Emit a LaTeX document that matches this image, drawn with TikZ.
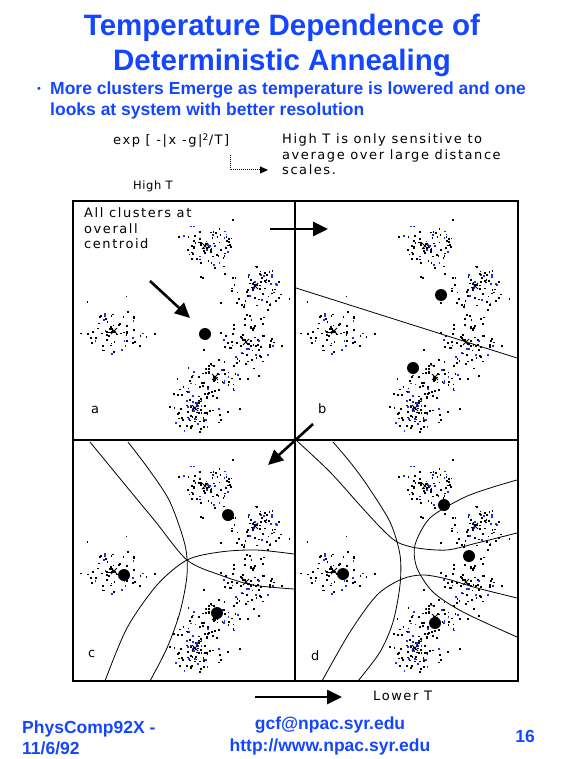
\documentclass[tikz,border=0pt]{standalone}
\usepackage{fontspec}
\setmainfont{Liberation Sans}
\newfontfamily\pixfont[LetterSpace=12]{DejaVu Sans}
\newfontfamily\pixnarrow[LetterSpace=5]{DejaVu Sans}
\usetikzlibrary{arrows.meta}
\definecolor{slideblue}{RGB}{20,70,255}
\definecolor{dotblue}{RGB}{30,50,225}

% the six point clouds, drawn the same in every panel
\newcommand{\clusterset}[2]{%
  \begin{scope}[shift={(#1,#2)}]
    \pgfmathsetseed{1992}
    \foreach \cx/\cy/\rx/\ry/\n in {205/246/29/24/75, 255/286/27/23/70, 114/331/29/23/70,
                                     246/342/27/24/70, 215/377/28/20/55, 195/408/29/24/95}{
      \foreach \k in {1,...,\n}{
        \pgfmathsetmacro\ang{360*rnd}
        \pgfmathsetmacro\rr{rnd^0.75}
        \pgfmathsetmacro\px{\cx+\rx*\rr*cos(\ang)}
        \pgfmathsetmacro\py{\cy+\ry*\rr*sin(\ang)}
        \pgfmathtruncatemacro\pc{rand>0.6 ? 100 : 0}
        \fill[dotblue!\pc!black] (\px,\py) rectangle ++(1.8,1.8);
      }
      \foreach \k in {1,...,6}{
        \pgfmathsetmacro\ang{360*rnd}
        \pgfmathsetmacro\rr{1+0.6*rnd}
        \pgfmathsetmacro\px{max(78,min(290,\cx+\rx*\rr*cos(\ang)))}
        \pgfmathsetmacro\py{max(206,min(435,\cy+\ry*\rr*sin(\ang)))}
        \fill (\px,\py) rectangle ++(1.8,1.8);
      }
      \draw[line width=0.8] (\cx-3,\cy-3) -- (\cx+3,\cy+3) (\cx-3,\cy+3) -- (\cx+3,\cy-3);
    }
  \end{scope}}

\begin{document}
\begin{tikzpicture}[x=1pt, y=-1pt,
    title/.style={font=\fontsize{29.5}{35}\selectfont\bfseries, text=slideblue, align=center, inner sep=0},
    bluetext/.style={font=\fontsize{17.5}{21}\selectfont\bfseries, text=slideblue, align=left, inner sep=0},
    foot/.style={font=\fontsize{17.5}{21.5}\selectfont\bfseries, text=slideblue, inner sep=0},
    pix/.style={font=\pixfont\fontsize{13}{15.5}\selectfont, align=left, inner sep=0},
    bound/.style={line width=0.8},
    bigarrow/.style={line width=2.6, -{Triangle[length=15pt,width=14pt]}},
    centroid/.style={radius=6}]
  \useasboundingbox (0,0) rectangle (569,759);

  % heading
  \node[title, anchor=north] (head) at (282,13.5) {Temperature Dependence of\\Deterministic Annealing};
  \node[text=slideblue, font=\fontsize{11}{11}\selectfont, inner sep=0] (dot) at (39,90) {•};
  \node[bluetext, anchor=north west] (point) at (50,82) {More clusters Emerge as temperature is lowered and one\\looks at system with better resolution};

  % formula and note
  \node[pix, anchor=base west] (expr) at (113,145) {exp [ -|x -g|\textsuperscript{2}/T]};
  \node[pix, anchor=north west] (note) at (282,133.5) {High T is only sensitive to\\average over large distance\\scales.};
  \coordinate (cstart) at (230,155);
  \coordinate (cend) at (268,170);
  \draw[line width=1, densely dotted, -{Triangle[length=8pt,width=7pt]}] (cstart) |- (cend);
  \node[font=\pixnarrow\fontsize{11.5}{13}\selectfont, anchor=base west, inner sep=0] (hight) at (133,190) {High T};

  % point clouds
  \clusterset{0}{0}
  \clusterset{220}{0}
  \clusterset{0}{240}
  \clusterset{220}{240}

  % frame
  \draw[line width=2] (73,201) rectangle (518,681);
  \draw[line width=2] (295,201) -- (295,681) (73,440) -- (518,440);

  % panel a
  \node[pix, anchor=north west] (txta) at (84,207.5) {All clusters at\\overall\\centroid};
  \fill (205,334) circle[centroid];
  \coordinate (aa1) at (150,281);
  \coordinate (aa2) at (190,318);
  \draw[bigarrow] (aa1) -- (aa2);
  \node[pix, anchor=base west] (laba) at (91,413) {a};

  % panel b
  \draw[bound] (296,288) -- (517,358);
  \fill (441,295) circle[centroid];
  \fill (413,368) circle[centroid];
  \node[pix, anchor=base west] (labb) at (318,413) {b};

  % panel c
  \draw[bound] plot[smooth] coordinates {(90,442) (122,481) (155,521) (187,560) (220,575) (253,585) (294,589)};
  \draw[bound] plot[smooth] coordinates {(128,442) (150,471) (170,502) (185,545) (187,575) (180,612) (167,648) (150,681)};
  \draw[bound] plot[smooth] coordinates {(105,681) (127,628) (157,585) (187,560) (220,552) (256,550) (294,554)};
  \fill (228,515) circle[centroid];
  \fill (124,575) circle[centroid];
  \fill (217,613) circle[centroid];
  \node[pix, anchor=base west] (labc) at (88,657) {c};

  % panel d
  \draw[bound] plot[smooth] coordinates {(297,441) (330,472) (357,502) (380,527) (397,542) (417,548) (447,550) (477,543) (517,533)};
  \draw[bound] plot[smooth] coordinates {(333,442) (350,462) (367,485) (390,522) (400,555) (400,585) (393,622) (380,652) (358,681)};
  \draw[bound] plot[smooth] coordinates {(517,480) (490,488) (463,498) (430,518) (415,545) (417,568) (433,592) (463,612) (517,637)};
  \draw[bound] plot[smooth] coordinates {(322,681) (350,632) (377,595) (402,579) (423,575) (447,579) (477,588) (517,598)};
  \fill (444,505) circle[centroid];
  \fill (469,556) circle[centroid];
  \fill (343,574) circle[centroid];
  \fill (435,623) circle[centroid];
  \node[pix, anchor=base west] (labd) at (311,660) {d};

  % arrows between panels
  \coordinate (ab1) at (270,229);
  \coordinate (ab2) at (328,229);
  \draw[bigarrow] (ab1) -- (ab2);
  \coordinate (bc1) at (313,424);
  \coordinate (bc2) at (268,465);
  \draw[bigarrow] (bc1) -- (bc2);
  \node[pix, anchor=base west] (lowt) at (373,700) {Lower T};
  \coordinate (lt1) at (255,697);
  \coordinate (lt2) at (342,697);
  \draw[bigarrow] (lt1) -- (lt2);

  % footer
  \node[foot, anchor=north west, align=left] (date) at (22,720.5) {PhysComp92X -\\11/6/92};
  \node[foot, anchor=north, align=center, font=\fontsize{17.5}{22}\selectfont\bfseries] (web) at (330,717) {gcf@npac.syr.edu\\http://www.npac.syr.edu};
  \node[foot, anchor=base east] (page) at (535,742) {16};
\end{tikzpicture}
\end{document}
